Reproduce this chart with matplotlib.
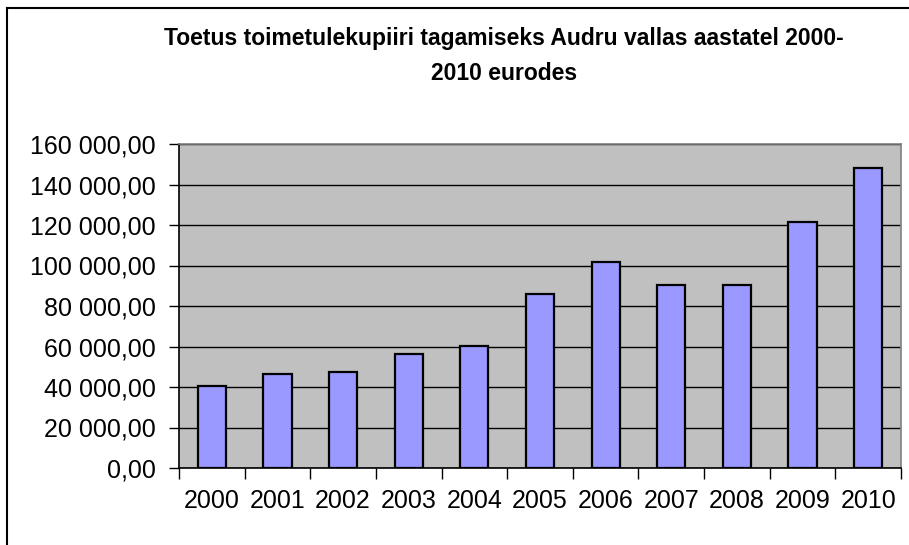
import matplotlib
matplotlib.use("Agg")
import matplotlib.pyplot as plt
from matplotlib.lines import Line2D
from matplotlib.ticker import FixedLocator, FuncFormatter

years = ["2000", "2001", "2002", "2003", "2004", "2005",
         "2006", "2007", "2008", "2009", "2010"]
toetus = [40300, 46400, 47400, 56300, 60200, 86100,
          101700, 90200, 90200, 121500, 148100]
y_ticks = [0, 20000, 40000, 60000, 80000, 100000, 120000, 140000, 160000]

TITLE = "Toetus toimetulekupiiri tagamiseks Audru vallas aastatel 2000-\n2010 eurodes"
FONT = ["Liberation Sans", "DejaVu Sans"]
W, H, DPI = 909, 545, 100


def fmt(v, _pos=None):
    return f"{v:,.2f}".replace(",", " ").replace(".", ",")


fig = plt.figure(figsize=(W / DPI, H / DPI), dpi=DPI)
fig.patch.set_facecolor("white")

# plot area in pixel coordinates of the reference
left, right, top, bottom = 179, 901, 144, 468
ax = fig.add_axes([left / W, 1 - bottom / H, (right - left) / W, (bottom - top) / H])
ax.set_facecolor("#C0C0C0")

x = range(len(years))
ax.bar(x, toetus, width=0.43, color="#9999FF", edgecolor="black",
       linewidth=1.6, zorder=3)

ax.set_xlim(-0.5, len(years) - 0.5)
ax.set_ylim(0, 160000)
ax.yaxis.set_major_locator(FixedLocator(y_ticks))
ax.yaxis.set_major_formatter(FuncFormatter(fmt))
ax.grid(axis="y", color="black", linewidth=1.0, zorder=1)
ax.set_axisbelow(True)

ax.set_xticks(list(x))
ax.set_xticklabels(years)
ax.set_xticks([i - 0.5 for i in range(len(years) + 1)], minor=True)
ax.tick_params(axis="x", which="major", length=0, pad=15)
ax.tick_params(axis="x", which="minor", length=8, width=1, color="black", direction="out")
ax.tick_params(axis="y", length=7, width=1, color="black", direction="out", pad=10)

for lab in ax.get_xticklabels() + ax.get_yticklabels():
    lab.set_fontfamily(FONT)
    lab.set_fontsize(18)
    lab.set_color("black")

ax.spines["left"].set_color("black")
ax.spines["bottom"].set_color("black")
ax.spines["top"].set_color("#808080")
ax.spines["right"].set_color("#808080")
for s in ax.spines.values():
    s.set_linewidth(1.2)

fig.text(504 / W, 1 - 56 / H, TITLE, ha="center", va="center",
         fontsize=16.5, fontweight="bold", family=FONT, linespacing=1.65)

# chart border, only left and top edges fall inside the picture
fig.add_artist(Line2D([7 / W, 7 / W], [0, 1 - 8 / H], color="black",
                      linewidth=1.5, transform=fig.transFigure))
fig.add_artist(Line2D([7 / W, 1], [1 - 8 / H, 1 - 8 / H], color="black",
                      linewidth=1.5, transform=fig.transFigure))

fig.savefig("out.png", dpi=DPI, facecolor="white")
